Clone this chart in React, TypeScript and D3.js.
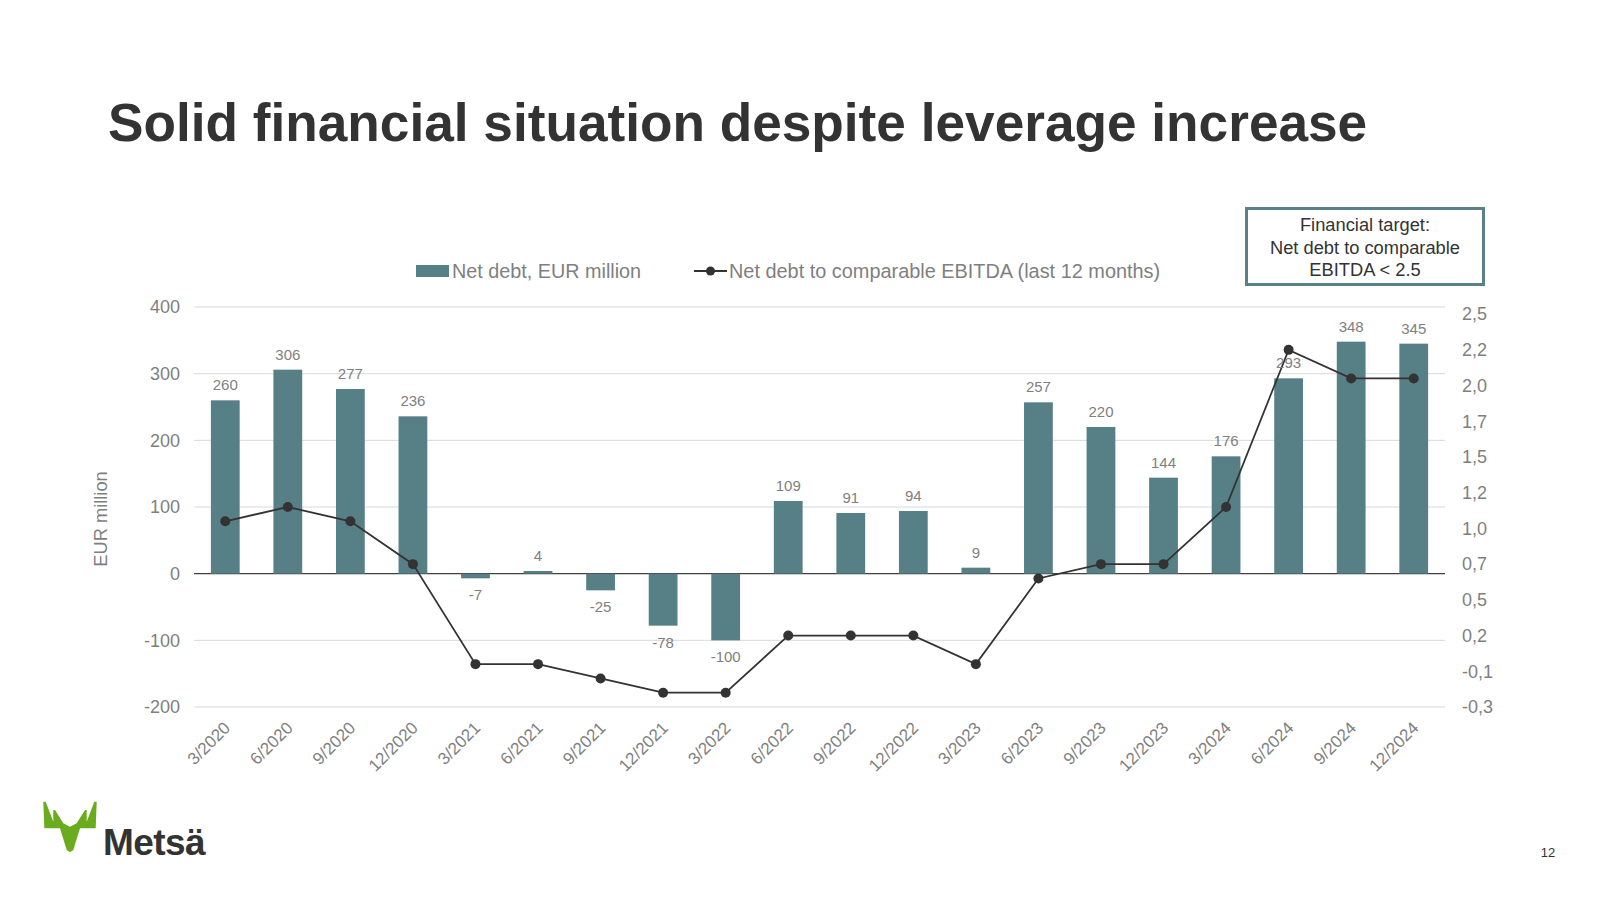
import React from "react";
import * as d3 from "d3";

const categories = ["3/2020","6/2020","9/2020","12/2020","3/2021","6/2021","9/2021","12/2021","3/2022","6/2022","9/2022","12/2022","3/2023","6/2023","9/2023","12/2023","3/2024","6/2024","9/2024","12/2024"];
const netDebt = [260,306,277,236,-7,4,-25,-78,-100,109,91,94,9,257,220,144,176,293,348,345];
const leverage = [1.0,1.1,1.0,0.7,0.0,0.0,-0.1,-0.2,-0.2,0.2,0.2,0.2,0.0,0.6,0.7,0.7,1.1,2.2,2.0,2.0];
const leftTicks = [-200,-100,0,100,200,300,400];
const rightTickValues = [-0.3,-0.05,0.2,0.45,0.7,0.95,1.2,1.45,1.7,1.95,2.2,2.45];
const rightTickLabels = ["-0,3","-0,1","0,2","0,5","0,7","1,0","1,2","1,5","1,7","2,0","2,2","2,5"];

const BAR = "#577f86";
const GRAY = "#7f7f7f";
const FONT = "'Liberation Sans', Arial, sans-serif";

export default function App() {
  const left = 194, right = 1445, top = 307, bottom = 707;
  const x = d3.scaleBand<string>().domain(categories).range([left, right]).paddingInner(0.54).paddingOuter(0.27);
  const y = d3.scaleLinear().domain([-200, 400]).range([bottom, top]);
  const y2 = d3.scaleLinear().domain([-0.3, 2.5]).range([bottom, top]);
  const cx = (c: string) => (x(c) as number) + x.bandwidth() / 2;
  const line = d3.line<number>().x((_, i) => cx(categories[i])).y((d) => y2(d));

  return (
    <svg width={1600} height={900} style={{ position: "absolute", left: 0, top: 0, fontFamily: FONT }}>
      <rect width={1600} height={900} fill="#fff" />
      <text x={108} y={141} fontSize={53.2} fontWeight="bold" fill="#333333">Solid financial situation despite leverage increase</text>

      {/* Financial target box */}
      <rect x={1246.5} y={208.5} width={237} height={76} fill="#fff" stroke="#5a8088" strokeWidth={3} />
      {["Financial target:", "Net debt to comparable", "EBITDA < 2.5"].map((t, i) => (
        <text key={i} x={1365} y={231 + i * 22.5} fontSize={18.3} fill="#333" textAnchor="middle">{t}</text>
      ))}

      {/* Legend */}
      <rect x={416} y={265} width={33} height={12} fill={BAR} />
      <text x={452} y={277.5} fontSize={19.8} fill={GRAY}>Net debt, EUR million</text>
      <line x1={694} x2={727} y1={271} y2={271} stroke="#333" strokeWidth={2} />
      <circle cx={710.5} cy={271} r={4.5} fill="#333" />
      <text x={729} y={277.5} fontSize={19.9} fill={GRAY}>Net debt to comparable EBITDA (last 12 months)</text>

      {/* grid */}
      {leftTicks.map((t) => (
        <g key={t}>
          <line x1={left} x2={right} y1={y(t)} y2={y(t)} stroke={t === 0 ? "#404040" : "#d9d9d9"} strokeWidth={t === 0 ? 1.3 : 1} />
          <text x={180} y={y(t)} dy="0.35em" fontSize={18} fill={GRAY} textAnchor="end">{t}</text>
        </g>
      ))}
      {rightTickValues.map((t, i) => (
        <text key={i} x={1462} y={y2(t)} dy="0.35em" fontSize={18} fill={GRAY}>{rightTickLabels[i]}</text>
      ))}
      <text transform={`translate(107,519) rotate(-90)`} fontSize={18.3} fill={GRAY} textAnchor="middle">EUR million</text>

      {/* bars */}
      {netDebt.map((v, i) => (
        <rect key={i} x={x(categories[i])} y={y(Math.max(0, v))} width={x.bandwidth()} height={Math.abs(y(v) - y(0))} fill={BAR} />
      ))}
      {/* line */}
      <path d={line(leverage) || ""} fill="none" stroke="#333" strokeWidth={1.8} />
      {leverage.map((v, i) => (
        <circle key={i} cx={cx(categories[i])} cy={y2(v)} r={5} fill="#333" />
      ))}
      {/* data labels */}
      {netDebt.map((v, i) => (
        <text key={i} x={cx(categories[i])} y={v >= 0 ? y(v) - 10 : y(v) + 22} fontSize={15} fill={GRAY} textAnchor="middle">{v}</text>
      ))}

      {/* x labels */}
      {categories.map((c) => (
        <text key={c} transform={`translate(${cx(c) + 6},${729}) rotate(-45)`} fontSize={17} fill={GRAY} textAnchor="end">{c}</text>
      ))}

      {/* logo */}
      <g transform="translate(43,800)">
        <path d="M0.3,1.7 L2.7,1.7 L10.3,21.7 L10.3,10 L12,10 L20.3,23.3 L27,26.7 L33.7,23.3 L42,10 L43.7,10 L43.7,21.7 L51.3,1.7 L53.7,1.7 L52.7,28.3 L37,28.3 L30.3,50 L27,52.3 L23.7,50 L17,28.3 L1.3,28.3 Z" fill="#6aac1e" />
      </g>
      <text x={103} y={855} fontSize={37} fontWeight="bold" fill="#333" letterSpacing={-0.6}>Metsä</text>

      <text x={1548} y={857} fontSize={13} fill="#333" textAnchor="middle">12</text>
    </svg>
  );
}
